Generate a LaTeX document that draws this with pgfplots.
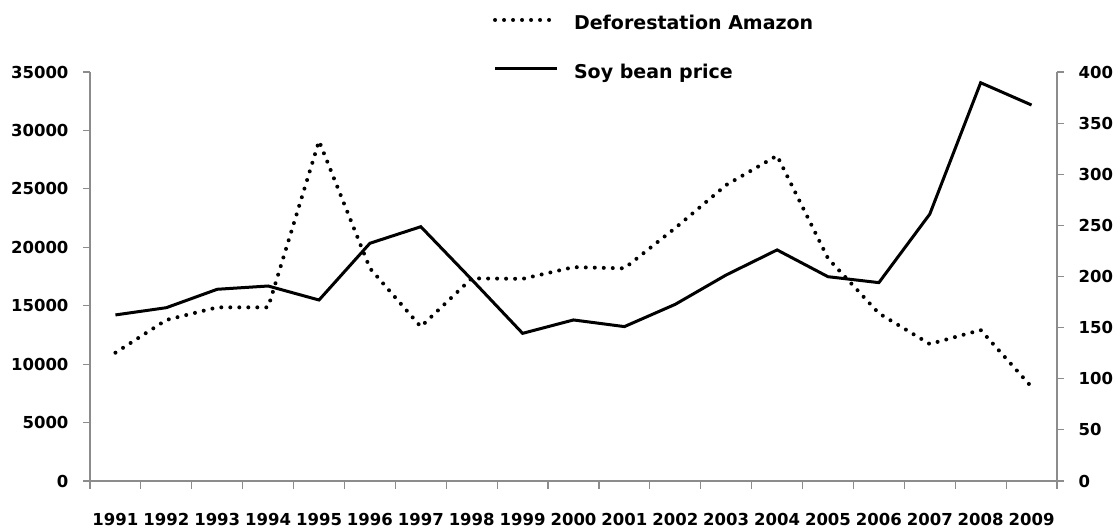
\documentclass[border=0pt]{standalone}
\usepackage{fontspec}
\setmainfont{DejaVu Sans}
\usepackage{pgfplots}
\pgfplotsset{compat=1.18}
\definecolor{axgray}{RGB}{140,140,140}
\begin{document}
\begin{tikzpicture}
\useasboundingbox (-90pt,-49pt) rectangle (1026pt,481pt);
\pgfplotsset{
  common/.style={
    scale only axis, width=967pt, height=409pt,
    at={(0pt,0pt)}, anchor=south west,
    xmin=0.5, xmax=19.5,
    axis line style={draw=axgray, line width=1.2pt},
    tick style={draw=axgray, line width=1.2pt},
    tick align=outside,
    major tick length=7pt,
    clip=false,
    /pgf/number format/assume math mode=true,
    /pgf/number format/1000 sep={},
    ticklabel style={font=\fontsize{16.5}{18}\selectfont\bfseries},
  }
}
\begin{axis}[common,
  axis x line*=bottom, axis y line*=left,
  ymin=0, ymax=35000, ytick={0,5000,...,35000},
  scaled y ticks=false,
  yticklabel style={xshift=-11pt},
  xtick={1,...,19},
  xticklabels={1991,1992,1993,1994,1995,1996,1997,1998,1999,2000,2001,2002,2003,2004,2005,2006,2007,2008,2009},
  major x tick style={draw=none},
  minor xtick={0.5,1.5,...,19.5},
  minor tick length=8pt,
  minor x tick style={draw=axgray, line width=1.2pt},
  xticklabel style={yshift=-22pt},
  legend style={at={(0.4168,1.137)}, anchor=north west, draw=none, fill=none,
    inner sep=0pt, outer sep=0pt, row sep=31pt,
    font=\fontsize{19}{22}\selectfont\bfseries,
    nodes={inner sep=0pt, text height=14pt, text depth=4pt},
    /tikz/every odd column/.append style={column sep=15pt}},
  legend cell align=left,
  legend image code/.code={\draw[#1] (0pt,5pt) -- (62pt,5pt);},
]
\addplot[black, line width=4pt, line cap=round, dash pattern=on 0pt off 9pt]
  coordinates {(1,10980) (2,13780) (3,14860) (4,14860) (5,29095) (6,18200) (7,13200) (8,17340) (9,17300) (10,18300) (11,18200) (12,21650) (13,25330) (14,27840) (15,19050) (16,14350) (17,11720) (18,12920) (19,8050)};
\addlegendentry{Deforestation Amazon}
\addlegendimage{black, line width=3pt}
\addlegendentry{Soy bean price}
\end{axis}
\begin{axis}[common,
  axis x line=none, axis y line*=right,
  ymin=0, ymax=400, ytick={0,50,...,400},
  yticklabel style={xshift=11pt},
]
\addplot[black, line width=3pt, line join=miter]
  coordinates {(1,162.4) (2,169.5) (3,187.5) (4,190.7) (5,177) (6,232.5) (7,248.7) (8,197) (9,144.4) (10,157.5) (11,151) (12,172.8) (13,201.5) (14,226) (15,199.8) (16,194) (17,261) (18,389.5) (19,367.7)};
\end{axis}
\end{tikzpicture}
\end{document}
